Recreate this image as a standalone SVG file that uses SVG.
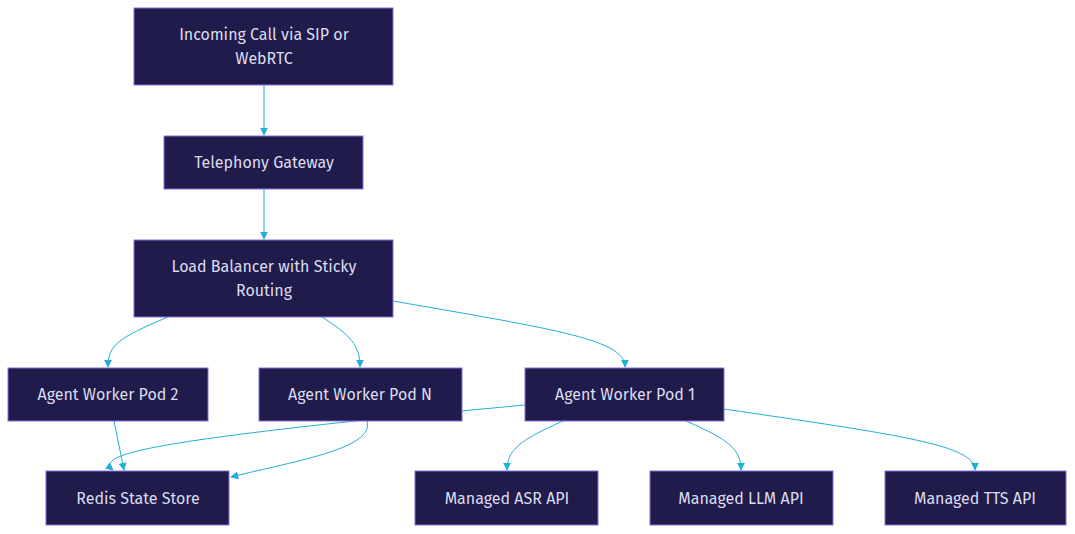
<svg xmlns="http://www.w3.org/2000/svg" width="1075" height="534" viewBox="0 0 1075 534">
<style>
.n rect{fill:#1f1b4a;stroke:#8a6fe0;stroke-width:1}
.n text{fill:#dcdcf0;font-family:"Fira Sans","Open Sans","Noto Sans",sans-serif;font-size:16px;text-anchor:middle}
.e path{fill:none;stroke:#1fb0d4;stroke-width:1;marker-end:url(#a)}
</style>
<defs><marker id="a" viewBox="0 0 10 10" refX="9" refY="5" markerWidth="8" markerHeight="8" orient="auto"><path d="M0,0L10,5L0,10z" fill="#1fb0d4"/></marker></defs>
<rect width="1075" height="534" fill="#fff"/>
<g id="edges" class="e">
<path d="M264,85V135"/>
<path d="M264,189V239"/>
<path d="M168,317C118,338 108,345 108,367"/>
<path d="M322,317C350,335 360,345 360,367"/>
<path d="M393,301C560,330 625,340 625,367"/>
<path d="M563,421C520,440 507,450 507,470"/>
<path d="M686,421C730,440 741,450 741,470"/>
<path d="M724,409C900,435 975,445 975,470"/>
<path d="M525,405L355,421C150,443 95,455 113,470"/>
<path d="M367,421C375,448 300,460 231,477"/>
<path d="M114,421L124,470"/>
</g>
<g id="incoming" class="n"><rect x="134" y="8" width="259" height="77"/><text x="264" y="40">Incoming Call via SIP or</text><text x="264" y="64">WebRTC</text></g>
<g id="gateway" class="n"><rect x="164" y="136" width="199" height="53"/><text x="264" y="168">Telephony Gateway</text></g>
<g id="lb" class="n"><rect x="134" y="240" width="259" height="77"/><text x="264" y="272">Load Balancer with Sticky</text><text x="264" y="296">Routing</text></g>
<g id="pod2" class="n"><rect x="8" y="368" width="200" height="53"/><text x="108" y="400">Agent Worker Pod 2</text></g>
<g id="podn" class="n"><rect x="259" y="368" width="203" height="53"/><text x="360" y="400">Agent Worker Pod N</text></g>
<g id="pod1" class="n"><rect x="525" y="368" width="199" height="53"/><text x="625" y="400">Agent Worker Pod 1</text></g>
<g id="redis" class="n"><rect x="46" y="471" width="183" height="54"/><text x="138" y="504">Redis State Store</text></g>
<g id="asr" class="n"><rect x="415" y="471" width="183" height="54"/><text x="507" y="504">Managed ASR API</text></g>
<g id="llm" class="n"><rect x="650" y="471" width="183" height="54"/><text x="741" y="504">Managed LLM API</text></g>
<g id="tts" class="n"><rect x="885" y="471" width="181" height="54"/><text x="975" y="504">Managed TTS API</text></g>
</svg>
